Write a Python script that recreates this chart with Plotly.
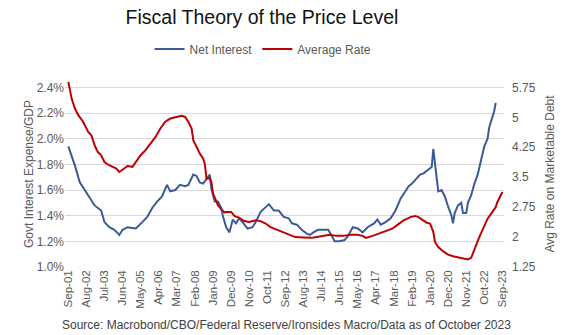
import pandas as pd
import plotly.graph_objects as go

# ---- data (months since Sep-2001) ----
net_month_idx = [0, 4, 7, 10, 13, 16, 20, 22, 25, 28, 31, 33, 36, 41, 45, 48, 51, 54, 57, 60,
                 62, 65, 68, 71, 73, 76, 78, 80, 82, 84, 86, 87, 89, 91, 93, 94, 96, 98, 100, 102,
                 104, 106, 109, 112, 114, 117, 120, 122, 125, 128, 131, 134, 136, 139, 142, 145, 147, 149, 152, 155,
                 158, 160, 162, 165, 168, 170, 173, 176, 179, 182, 186, 188, 190, 193, 196, 199, 202, 205, 207, 209,
                 212, 214, 216, 219, 221, 222, 223, 225, 227, 229, 231, 233, 234, 235, 237, 239, 240, 242, 243, 245,
                 247, 249, 251, 253, 255, 256, 258, 259, 260]
net_interest = [1.94, 1.79, 1.66, 1.60, 1.53, 1.48, 1.44, 1.35, 1.31, 1.29, 1.25, 1.29, 1.31, 1.30, 1.35, 1.39, 1.46, 1.51, 1.55, 1.64,
                1.59, 1.60, 1.64, 1.63, 1.64, 1.72, 1.71, 1.66, 1.65, 1.69, 1.72, 1.61, 1.51, 1.51, 1.46, 1.40, 1.31, 1.27, 1.37, 1.34,
                1.38, 1.35, 1.30, 1.31, 1.35, 1.43, 1.47, 1.49, 1.44, 1.44, 1.39, 1.38, 1.34, 1.33, 1.29, 1.26, 1.25, 1.27, 1.29, 1.29,
                1.29, 1.25, 1.20, 1.20, 1.21, 1.24, 1.31, 1.30, 1.27, 1.31, 1.34, 1.37, 1.33, 1.35, 1.38, 1.44, 1.53, 1.59, 1.63, 1.65,
                1.69, 1.72, 1.73, 1.76, 1.78, 1.92, 1.81, 1.59, 1.60, 1.55, 1.47, 1.40, 1.34, 1.42, 1.48, 1.50, 1.42, 1.42, 1.50, 1.56,
                1.65, 1.72, 1.83, 1.94, 2.00, 2.09, 2.17, 2.21, 2.28]

rate_month_idx = [0, 2, 4, 6, 9, 12, 14, 16, 18, 20, 22, 24, 27, 29, 31, 33, 36, 39, 41, 44,
                  47, 50, 53, 56, 59, 62, 65, 66, 69, 71, 73, 75, 76, 78, 80, 82, 83, 84, 86, 87,
                  88, 90, 91, 93, 95, 97, 99, 101, 104, 107, 110, 114, 117, 120, 123, 126, 129, 131, 133, 138,
                  143, 148, 151, 155, 159, 163, 167, 172, 176, 179, 181, 185, 189, 193, 197, 200, 204, 208, 211, 213,
                  216, 218, 220, 222, 223, 225, 228, 231, 234, 238, 241, 243, 245, 246, 248, 250, 253, 255, 258, 260,
                  261, 263, 264]
average_rate = [5.89, 5.47, 5.22, 5.06, 4.89, 4.64, 4.55, 4.30, 4.13, 4.05, 3.88, 3.82, 3.76, 3.72, 3.63, 3.69, 3.78, 3.76, 3.88, 4.05,
                4.18, 4.35, 4.51, 4.72, 4.89, 4.97, 5.00, 5.01, 5.04, 5.01, 4.89, 4.72, 4.43, 4.26, 4.09, 3.97, 3.84, 3.47, 3.47, 3.38,
                3.09, 2.90, 2.80, 2.70, 2.62, 2.63, 2.63, 2.53, 2.48, 2.40, 2.38, 2.42, 2.40, 2.34, 2.25, 2.20, 2.15, 2.11, 2.09, 2.00,
                1.99, 1.98, 2.00, 2.03, 2.06, 2.03, 2.03, 2.06, 2.06, 2.03, 1.98, 2.03, 2.09, 2.15, 2.21, 2.30, 2.42, 2.50, 2.53, 2.50,
                2.42, 2.36, 2.34, 2.13, 1.88, 1.75, 1.64, 1.56, 1.52, 1.49, 1.46, 1.44, 1.48, 1.59, 1.79, 2.00, 2.30, 2.46, 2.63, 2.75,
                2.88, 3.03, 3.13]

x_tick_labels = ["Sep-01", "Aug-02", "Jul-03", "Jun-04", "May-05", "Apr-06", "Mar-07", "Feb-08", "Jan-09",
                 "Dec-09", "Nov-10", "Oct-11", "Sep-12", "Aug-13", "Jul-14", "Jun-15", "May-16", "Apr-17",
                 "Mar-18", "Feb-19", "Jan-20", "Dec-20", "Nov-21", "Oct-22", "Sep-23"]
left_ticks = [1.0, 1.2, 1.4, 1.6, 1.8, 2.0, 2.2, 2.4]
left_tick_text = ["1.0%", "1.2%", "1.4%", "1.6%", "1.8%", "2.0%", "2.2%", "2.4%"]
right_ticks = [1.25, 2.0, 2.75, 3.5, 4.25, 5.0, 5.75]
right_tick_text = ["1.25", "2", "2.75", "3.5", "4.25", "5", "5.75"]

start = pd.Timestamp("2001-09-01")
def to_dates(idx):
    return [start + pd.DateOffset(months=int(m)) for m in idx]

tick_dates = [pd.to_datetime(s, format="%b-%y") for s in x_tick_labels]

FONT = "Liberation Sans, Arial, sans-serif"
GRAY = "#595959"
BLUE = "#3D5A98"
RED = "#C00000"

fig = go.Figure()
fig.add_trace(go.Scatter(x=to_dates(net_month_idx), y=net_interest, name="Net Interest",
                         mode="lines", line=dict(color=BLUE, width=2), yaxis="y"))
fig.add_trace(go.Scatter(x=to_dates(rate_month_idx), y=average_rate, name="Average Rate",
                         mode="lines", line=dict(color=RED, width=2), yaxis="y2"))

fig.update_layout(
    width=567, height=335,
    margin=dict(l=65, r=63, t=81, b=68),
    paper_bgcolor="white", plot_bgcolor="white",
    font=dict(family=FONT, size=12, color=GRAY),
    title=dict(text="Fiscal Theory of the Price Level", x=0.462, xanchor="center",
               y=1 - 17 / 335, yanchor="middle", xref="container", yref="container",
               font=dict(family=FONT, size=19.5, color="#111111")),
    showlegend=True,
    legend=dict(orientation="h", xref="container", yref="container", x=0.464, xanchor="center",
                y=1 - 49 / 335, yanchor="middle", font=dict(family=FONT, size=12, color=GRAY),
                itemwidth=30, tracegroupgap=0, bgcolor="rgba(0,0,0,0)"),
    xaxis=dict(type="date", range=[pd.Timestamp("2001-07-01"), pd.Timestamp("2023-10-01")],
               tickvals=tick_dates, ticktext=x_tick_labels, tickangle=-90,
               tickfont=dict(family=FONT, size=11.5, color=GRAY),
               showgrid=False, showline=False, ticks="", zeroline=False),
    yaxis=dict(range=[1.0, 2.45], tickvals=left_ticks, ticktext=left_tick_text,
               showgrid=True, gridcolor="#D9D9D9", gridwidth=1, zeroline=False, showline=False,
               ticks="", tickfont=dict(family=FONT, size=12, color=GRAY),
               title=dict(text="Govt Interest Expense/GDP", font=dict(family=FONT, size=12, color=GRAY),
                          standoff=0)),
    yaxis2=dict(range=[1.25, 5.75 + 0.05 / 1.4 * 4.5], overlaying="y", side="right",
                tickvals=right_ticks, ticktext=right_tick_text, showgrid=False, zeroline=False,
                showline=False, ticks="", ticklabelstandoff=7, tickfont=dict(family=FONT, size=12, color=GRAY),
                title=dict(text="Avg Rate on Marketable Debt", font=dict(family=FONT, size=12, color=GRAY),
                           standoff=10)),
)

fig.add_annotation(text="Source: Macrobond/CBO/Federal Reserve/Ironsides Macro/Data as of October 2023",
                   xref="paper", yref="paper", x=(286 - 65) / 439, y=(267 - 325) / 186,
                   xanchor="center", yanchor="middle", showarrow=False,
                   font=dict(family=FONT, size=12, color="#404040"))

fig.write_html("out.html")
